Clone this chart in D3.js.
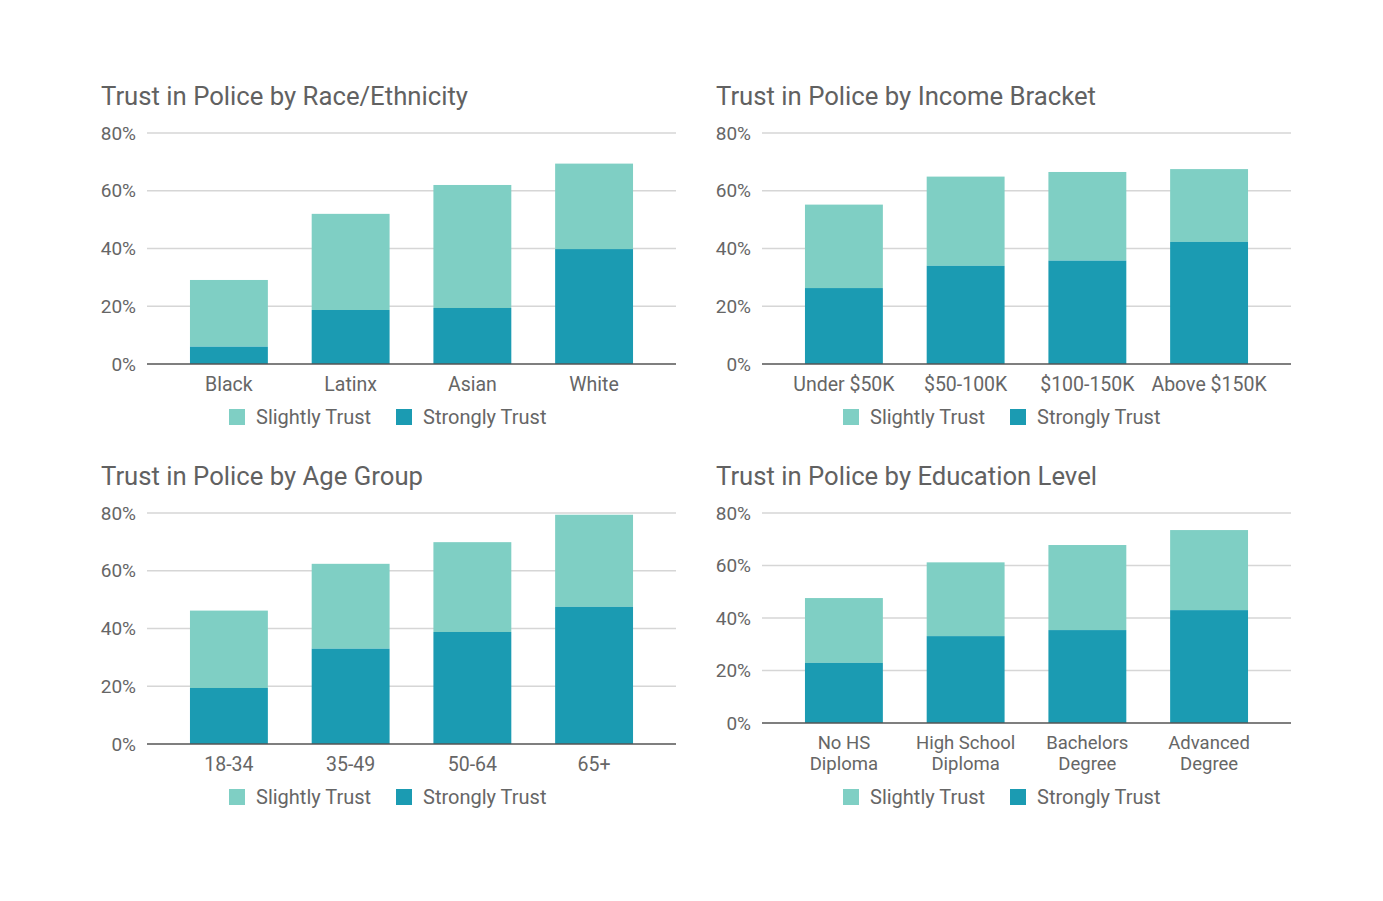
<!DOCTYPE html>
<html>
<head>
<meta charset="utf-8">
<script src="https://cdn.jsdelivr.net/npm/d3@7"></script>
<style>
  body { margin: 0; background: #fff; }
  svg { font-family: Roboto, "Noto Sans", sans-serif; }
</style>
</head>
<body>
<svg id="chart" width="1383" height="901"></svg>
<script>
const seriesNames = ["Slightly Trust", "Strongly Trust"];
const yTicks = [0, 20, 40, 60, 80];

const raceCats = ["Black", "Latinx", "Asian", "White"];
const raceStrong = [6, 18.7, 19.4, 39.8];
const raceTotal = [29.1, 52, 62, 69.4];

const incomeCats = ["Under $50K", "$50-100K", "$100-150K", "Above $150K"];
const incomeStrong = [26.3, 34, 35.8, 42.3];
const incomeTotal = [55.2, 64.9, 66.5, 67.5];

const ageCats = ["18-34", "35-49", "50-64", "65+"];
const ageStrong = [19.4, 33, 38.8, 47.5];
const ageTotal = [46.2, 62.4, 69.9, 79.4];

const eduCats = [["No HS", "Diploma"], ["High School", "Diploma"], ["Bachelors", "Degree"], ["Advanced", "Degree"]];
const eduStrong = [22.9, 33.1, 35.4, 43];
const eduTotal = [47.6, 61.2, 67.8, 73.5];

const colors = { slight: "#7fcfc4", strong: "#1b9bb2" };

function drawPanel(svg, p) {
  const g = svg.append("g");
  const x = d3.scaleBand()
    .domain(p.cats.map((c, i) => i))
    .range([p.left, p.right])
    .paddingInner(0.36)
    .paddingOuter(0.353);
  const y = d3.scaleLinear().domain([0, 80]).range([p.bottom, p.top]);

  g.append("text")
    .attr("x", p.titleX)
    .attr("y", p.top - 28)
    .attr("fill", "#616161")
    .style("font-size", "25px")
    .attr("textLength", p.titleLen)
    .attr("lengthAdjust", "spacingAndGlyphs")
    .text(p.title);

  // gridlines + y labels
  g.selectAll(".grid")
    .data(yTicks.filter(t => t > 0))
    .enter().append("line")
    .attr("x1", p.left).attr("x2", p.right)
    .attr("y1", d => y(d)).attr("y2", d => y(d))
    .attr("stroke", "#d6d6d6").attr("stroke-width", 1.3);

  g.selectAll(".ylab")
    .data(yTicks)
    .enter().append("text")
    .attr("x", p.left - 11)
    .attr("y", d => y(d))
    .attr("dy", "0.35em")
    .attr("text-anchor", "end")
    .attr("fill", "#666")
    .style("font-size", "19px")
    .text(d => d + "%");

  const rows = p.cats.map((c, i) => ({ i: i, strong: p.strong[i], total: p.total[i] }));

  g.selectAll(".slight")
    .data(rows)
    .enter().append("rect")
    .attr("x", d => x(d.i))
    .attr("width", x.bandwidth())
    .attr("y", d => y(d.total))
    .attr("height", d => y(d.strong) - y(d.total))
    .attr("fill", colors.slight);

  g.selectAll(".strong")
    .data(rows)
    .enter().append("rect")
    .attr("x", d => x(d.i))
    .attr("width", x.bandwidth())
    .attr("y", d => y(d.strong))
    .attr("height", d => y(0) - y(d.strong))
    .attr("fill", colors.strong);

  g.append("line")
    .attr("x1", p.left).attr("x2", p.right)
    .attr("y1", y(0)).attr("y2", y(0))
    .attr("stroke", "#555").attr("stroke-width", 1.5);

  // x labels (two-line labels get their own text per line)
  p.cats.forEach((d, i) => {
    const lines = Array.isArray(d) ? d : [d];
    const size = lines.length > 1 ? 18.5 : 19.5;
    lines.forEach((l, j) => {
      g.append("text")
        .attr("x", x(i) + x.bandwidth() / 2)
        .attr("y", y(0) + 20 + j * 21)
        .attr("dy", "0.35em")
        .attr("text-anchor", "middle")
        .attr("fill", "#666")
        .style("font-size", size + "px")
        .text(l);
    });
  });

  // legend
  const leg = g.append("g").attr("transform", "translate(" + p.legendX + "," + p.legendY + ")");
  const items = [
    { name: seriesNames[0], color: colors.slight, dx: 0 },
    { name: seriesNames[1], color: colors.strong, dx: 167 }
  ];
  items.forEach(it => {
    leg.append("rect")
      .attr("x", it.dx).attr("y", -8)
      .attr("width", 16).attr("height", 16)
      .attr("fill", it.color);
    leg.append("text")
      .attr("x", it.dx + 27).attr("y", 0)
      .attr("dy", "0.35em")
      .attr("fill", "#666")
      .style("font-size", "20px")
      .text(it.name);
  });
}

const svg = d3.select("#chart");

drawPanel(svg, { title: "Trust in Police by Race/Ethnicity", cats: raceCats, strong: raceStrong, total: raceTotal,
  left: 147, right: 676, top: 133, bottom: 364, titleX: 101, titleLen: 367, legendX: 229, legendY: 417 });
drawPanel(svg, { title: "Trust in Police by Income Bracket", cats: incomeCats, strong: incomeStrong, total: incomeTotal,
  left: 762, right: 1291, top: 133, bottom: 364, titleX: 716, titleLen: 380, legendX: 843, legendY: 417 });
drawPanel(svg, { title: "Trust in Police by Age Group", cats: ageCats, strong: ageStrong, total: ageTotal,
  left: 147, right: 676, top: 513, bottom: 744, titleX: 101, titleLen: 322, legendX: 229, legendY: 797 });
drawPanel(svg, { title: "Trust in Police by Education Level", cats: eduCats, strong: eduStrong, total: eduTotal,
  left: 762, right: 1291, top: 513, bottom: 723, titleX: 716, titleLen: 381, legendX: 843, legendY: 797 });
</script>
</body>
</html>
